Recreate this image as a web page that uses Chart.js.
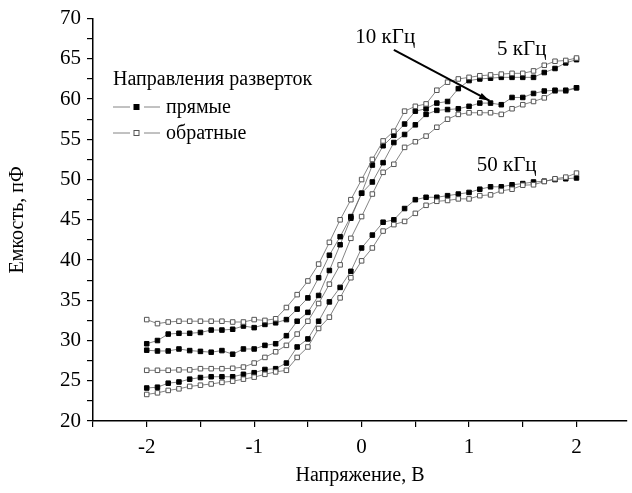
<!DOCTYPE html>
<html>
<head>
<meta charset="utf-8">
<script src="https://cdn.jsdelivr.net/npm/chart.js@4.4.0/dist/chart.umd.min.js"></script>
<style>
  html, body { margin: 0; padding: 0; background: #fff; }
</style>
</head>
<body>
<canvas id="myChart" width="632" height="493"></canvas>
<script>
const voltage = [-2, -1.9, -1.8, -1.7, -1.6, -1.5, -1.4, -1.3, -1.2, -1.1,
                 -1, -0.9, -0.8, -0.7, -0.6, -0.5, -0.4, -0.3, -0.2, -0.1,
                 0, 0.1, 0.2, 0.3, 0.4, 0.5, 0.6, 0.7, 0.8, 0.9,
                 1, 1.1, 1.2, 1.3, 1.4, 1.5, 1.6, 1.7, 1.8, 1.9, 2];

// 5 kHz
const fwd5k = [29.6, 30.0, 30.8, 30.9, 30.9, 31.0, 31.3, 31.3, 31.4, 31.8,
               31.6, 32.0, 32.2, 32.6, 33.9, 35.3, 37.8, 40.6, 42.9, 45.4,
               48.3, 51.8, 54.2, 55.5, 56.9, 58.5, 58.8, 59.5, 59.7, 61.3,
               62.3, 62.5, 62.6, 62.7, 62.7, 62.7, 62.7, 63.3, 63.8, 64.5, 64.9];
const rev5k = [32.6, 32.1, 32.3, 32.4, 32.4, 32.4, 32.4, 32.4, 32.3, 32.3,
               32.6, 32.5, 32.7, 34.1, 35.7, 37.4, 39.5, 42.2, 45.0, 47.5,
               50.0, 52.5, 54.8, 56.0, 58.5, 59.1, 59.4, 61.1, 62.1, 62.5,
               62.7, 62.9, 63.0, 63.1, 63.2, 63.2, 63.5, 64.2, 64.7, 64.8, 65.1];
// 10 kHz
const fwd10k = [28.8, 28.7, 28.7, 28.95, 28.75, 28.65, 28.55, 28.75, 28.3, 28.95,
                28.95, 29.4, 29.6, 30.6, 32.4, 33.5, 35.6, 38.7, 41.9, 45.2,
                48.3, 49.7, 52.1, 54.6, 55.6, 56.8, 58.1, 58.6, 58.7, 58.8,
                59.1, 59.5, 59.5, 59.3, 60.2, 60.2, 60.7, 61.0, 61.1, 61.1, 61.4];
const rev10k = [26.3, 26.3, 26.3, 26.35, 26.35, 26.5, 26.5, 26.5, 26.55, 26.7,
                27.2, 27.9, 28.6, 29.4, 30.8, 32.4, 34.6, 37.0, 39.4, 42.7,
                45.4, 48.2, 50.9, 51.9, 54.0, 54.7, 55.4, 56.5, 57.5, 58.1,
                58.3, 58.3, 58.3, 58.1, 58.8, 59.3, 59.7, 60.15, 61.0, 61.0, 61.4];
// 50 kHz
const fwd50k = [24.1, 24.2, 24.7, 24.85, 25.2, 25.4, 25.5, 25.5, 25.5, 25.8,
                26.0, 26.4, 26.5, 27.2, 29.2, 30.2, 32.4, 34.8, 36.6, 38.6,
                41.5, 43.1, 44.7, 45.0, 46.4, 47.5, 47.8, 47.8, 48.0, 48.2,
                48.4, 48.8, 49.1, 49.1, 49.35, 49.5, 49.7, 49.8, 50.0, 50.1, 50.2];
const rev50k = [23.3, 23.5, 23.8, 24.0, 24.3, 24.45, 24.6, 24.8, 24.95, 25.2,
                25.45, 25.8, 26.1, 26.3, 27.9, 29.2, 31.5, 32.9, 35.3, 37.8,
                39.9, 41.5, 43.6, 44.4, 44.8, 45.8, 46.8, 47.3, 47.4, 47.6,
                47.6, 48.0, 48.1, 48.6, 48.8, 49.3, 49.35, 49.75, 50.1, 50.3, 50.8];

const fontName = '"Liberation Serif", "Times New Roman", serif';

function series(values, filled) {
    return {
        data: values.map((v, i) => ({x: voltage[i], y: v})),
        borderColor: '#666',
        borderWidth: 0.8,
        pointStyle: 'rect',
        pointRadius: 3.2,
        pointBackgroundColor: filled ? '#000' : '#fff',
        pointBorderColor: filled ? '#000' : '#555',
        pointBorderWidth: 1,
        tension: 0,
        fill: false
    };
}

const notes = {
    id: 'notes',
    afterDatasetsDraw(chart) {
        const ctx = chart.ctx;
        const x = chart.scales.x, y = chart.scales.y;
        ctx.save();
        ctx.fillStyle = '#000';
        ctx.font = '21px ' + fontName;
        ctx.textAlign = 'center';
        ctx.textBaseline = 'middle';
        ctx.fillText('10 кГц', x.getPixelForValue(0.22), y.getPixelForValue(67.7));
        ctx.fillText('5 кГц', x.getPixelForValue(1.49), y.getPixelForValue(66.2));
        ctx.fillText('50 кГц', x.getPixelForValue(1.35), y.getPixelForValue(51.8));

        // arrow to the 10 kHz curve
        let x0 = x.getPixelForValue(0.30), y0 = y.getPixelForValue(66.1);
        let x1 = x.getPixelForValue(1.19), y1 = y.getPixelForValue(59.8);
        ctx.strokeStyle = '#000';
        ctx.lineWidth = 2;
        ctx.beginPath();
        ctx.moveTo(x0, y0);
        ctx.lineTo(x1, y1);
        ctx.stroke();
        let ang = Math.atan2(y1 - y0, x1 - x0);
        ctx.beginPath();
        ctx.moveTo(x1, y1);
        ctx.lineTo(x1 - 11 * Math.cos(ang - 0.3), y1 - 11 * Math.sin(ang - 0.3));
        ctx.lineTo(x1 - 11 * Math.cos(ang + 0.3), y1 - 11 * Math.sin(ang + 0.3));
        ctx.closePath();
        ctx.fill();

        // legend
        ctx.font = '20px ' + fontName;
        ctx.textAlign = 'left';
        ctx.fillText('Направления разверток', 113, 80);
        const rows = [['прямые', true, 107], ['обратные', false, 133]];
        rows.forEach(([label, filled, ry]) => {
            ctx.strokeStyle = '#666';
            ctx.lineWidth = 0.8;
            ctx.beginPath();
            ctx.moveTo(113, ry); ctx.lineTo(130, ry);
            ctx.moveTo(144, ry); ctx.lineTo(160, ry);
            ctx.stroke();
            ctx.fillStyle = filled ? '#000' : '#fff';
            ctx.fillRect(134, ry - 2.5, 5, 5);
            ctx.strokeStyle = filled ? '#000' : '#555';
            ctx.lineWidth = 1;
            ctx.strokeRect(134, ry - 2.5, 5, 5);
            ctx.fillStyle = '#000';
            ctx.fillText(label, 166, ry + 1);
        });
        ctx.restore();
    }
};

const ctx = document.getElementById('myChart').getContext('2d');
new Chart(ctx, {
    type: 'line',
    data: {
        datasets: [
            series(rev5k, false),
            series(fwd5k, true),
            series(fwd10k, true),
            series(rev10k, false),
            series(rev50k, false),
            series(fwd50k, true)
        ]
    },
    options: {
        responsive: false,
        animation: false,
        devicePixelRatio: 1,
        layout: {padding: {top: 15, right: 0, left: 0, bottom: 0}},
        plugins: {
            legend: {display: false},
            tooltip: {enabled: false}
        },
        scales: {
            x: {
                type: 'linear',
                min: -2.5,
                max: 2.47,
                afterFit: s => { s.height = 72; },
                ticks: {
                    stepSize: 0.5,
                    includeBounds: false,
                    autoSkip: false,
                    maxRotation: 0,
                    color: '#000',
                    padding: 8,
                    font: {family: fontName, size: 21},
                    callback: v => Math.abs(v - Math.round(v)) < 1e-6 ? String(Math.round(v)) : ''
                },
                grid: {drawOnChartArea: false, tickLength: 6, tickColor: '#000', lineWidth: 1.2},
                border: {color: '#000', width: 1.5},
                title: {
                    display: true,
                    text: 'Напряжение, В',
                    color: '#000',
                    font: {family: fontName, size: 20},
                    padding: {top: 0, bottom: 5}
                }
            },
            y: {
                min: 20,
                max: 70,
                afterFit: s => { s.width = 93; },
                ticks: {
                    stepSize: 2.5,
                    autoSkip: false,
                    color: '#000',
                    padding: 6,
                    font: {family: fontName, size: 21},
                    callback: v => v % 5 === 0 ? String(v) : ''
                },
                grid: {drawOnChartArea: false, tickLength: 6, tickColor: '#000', lineWidth: 1.2},
                border: {color: '#000', width: 1.5},
                title: {
                    display: true,
                    text: 'Емкость, пФ',
                    color: '#000',
                    font: {family: fontName, size: 20},
                    padding: {top: 6, bottom: 0}
                }
            }
        }
    },
    plugins: [notes]
});
</script>
</body>
</html>
